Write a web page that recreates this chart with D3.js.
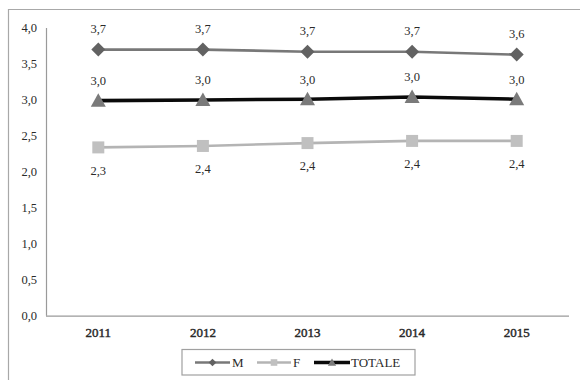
<!DOCTYPE html>
<html><head><meta charset="utf-8">
<script src="https://cdn.jsdelivr.net/npm/d3@7"></script>
<style>body{margin:0;background:#fff}svg{display:block}</style>
</head><body>
<script>
const years = ["2011","2012","2013","2014","2015"];
const seriesM = [3.70, 3.70, 3.67, 3.67, 3.63];
const seriesF = [2.34, 2.36, 2.40, 2.43, 2.43];
const seriesTot = [2.99, 3.00, 3.01, 3.04, 3.01];
const labelsM = ["3,7","3,7","3,7","3,7","3,6"];
const labelsF = ["2,3","2,4","2,4","2,4","2,4"];
const labelsTot = ["3,0","3,0","3,0","3,0","3,0"];
const yTicks = [0,0.5,1,1.5,2,2.5,3,3.5,4];

const W=580,H=380;
const svg=d3.select("body").append("svg").attr("width",W).attr("height",H);
const font="'Liberation Serif','Times New Roman',serif";

// outer frame
svg.append("path").attr("d","M8.5,380 V9.5 H580").attr("fill","none").attr("stroke","#a8a8a8").attr("stroke-width",1.2);

const x=d3.scaleBand().domain(years).range([46,569]);
const y=d3.scaleLinear().domain([0,4]).range([315.7,28]);

// axes
svg.append("line").attr("x1",46.5).attr("x2",46.5).attr("y1",y(4)).attr("y2",y(0)).attr("stroke","#9a9a9a").attr("stroke-width",1.2);
svg.append("line").attr("x1",46).attr("x2",569).attr("y1",y(0)+0.5).attr("y2",y(0)+0.5).attr("stroke","#9a9a9a").attr("stroke-width",1.2);

const fmt=d3.format(".1f");
svg.append("g").selectAll("text").data(yTicks).join("text")
  .attr("x",37).attr("y",d=>y(d)).attr("dy","0.35em").attr("text-anchor","end")
  .attr("font-family",font).attr("font-size",12.5).attr("fill","#2a2a2a")
  .text(d=>fmt(d).replace(".",","));

svg.append("g").selectAll("text").data(years).join("text")
  .attr("x",d=>x(d)+x.bandwidth()/2).attr("y",332).attr("dy","0.35em").attr("text-anchor","middle")
  .attr("font-family",font).attr("font-size",13).attr("fill","#2a2a2a")
  .attr("stroke","#2a2a2a").attr("stroke-width",0.45)
  .text(d=>d);

const cx=i=>x(years[i])+x.bandwidth()/2;
const line=d3.line().x((d,i)=>cx(i)).y(d=>y(d));

const series=[
  {name:"M",vals:seriesM,labels:labelsM,stroke:"#787878",sw:2.6,mfill:"#626262",marker:"diamond",dy:-21},
  {name:"F",vals:seriesF,labels:labelsF,stroke:"#b4b4b4",sw:2.6,mfill:"#c0c0c0",marker:"square",dy:23},
  {name:"TOTALE",vals:seriesTot,labels:labelsTot,stroke:"#0a0a0a",sw:3.6,mfill:"#7a7a7a",marker:"triangle",dy:-20}
];
function drawMarker(g,type,px,py,col,scale){
  scale=scale||1;
  let d;
  if(type==="diamond"){const r=7*scale;d=`M${px},${py-r}L${px+r},${py}L${px},${py+r}L${px-r},${py}Z`;}
  else if(type==="square"){const r=6*scale;d=`M${px-r},${py-r}h${2*r}v${2*r}h${-2*r}Z`;}
  else {const r=7.5*scale;d=`M${px},${py-r}L${px+r},${py+r*0.8}L${px-r},${py+r*0.8}Z`;}
  g.append("path").attr("d",d).attr("fill",col);
}
series.forEach(s=>{
  const g=svg.append("g");
  g.append("path").datum(s.vals).attr("d",line).attr("fill","none").attr("stroke",s.stroke).attr("stroke-width",s.sw);
  s.vals.forEach((v,i)=>drawMarker(g,s.marker,cx(i),y(v),s.mfill));
  g.selectAll("text").data(s.vals).join("text")
    .attr("x",(d,i)=>cx(i)).attr("y",d=>y(d)+s.dy).attr("dy","0.35em").attr("text-anchor","middle")
    .attr("font-family",font).attr("font-size",12.5).attr("fill","#2a2a2a")
    .text((d,i)=>s.labels[i]);
});

// legend
svg.append("rect").attr("x",182).attr("y",349.5).attr("width",233).attr("height",25.5)
  .attr("fill","#fff").attr("stroke","#a0a0a0").attr("stroke-width",1.2);
const leg=[{s:series[0],x1:195,x2:230,tx:232},{s:series[1],x1:257,x2:291,tx:293},{s:series[2],x1:314,x2:350,tx:351}];
const ly=362.5;
leg.forEach(l=>{
  const g=svg.append("g");
  g.append("line").attr("x1",l.x1).attr("x2",l.x2).attr("y1",ly).attr("y2",ly).attr("stroke",l.s.stroke).attr("stroke-width",l.s.sw);
  drawMarker(g,l.s.marker,(l.x1+l.x2)/2,ly,l.s.mfill,0.55);
  g.append("text").attr("x",l.tx).attr("y",ly).attr("dy","0.35em").attr("font-family",font).attr("font-size",13).attr("fill","#2a2a2a").text(l.s.name);
});
</script>
</body></html>
